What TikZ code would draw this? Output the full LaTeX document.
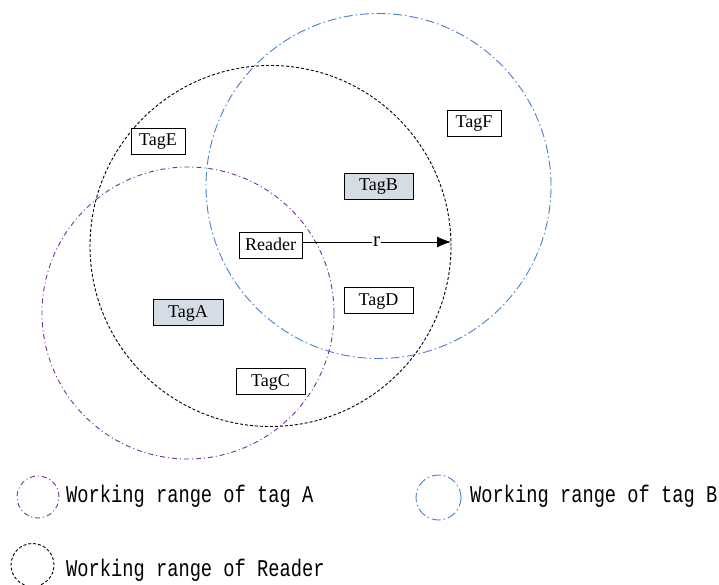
\documentclass[tikz,border=0pt]{standalone}
\usepackage{fontspec}
\setmainfont{Liberation Serif}
\newfontfamily\legendfont[FakeStretch=0.78]{Liberation Mono}
\usetikzlibrary{arrows.meta}

\definecolor{rangeA}{RGB}{112,48,160}
\definecolor{rangeB}{RGB}{74,126,211}
\definecolor{tagfill}{RGB}{214,220,229}

\tikzset{
  rangering/.style={circle, draw, inner sep=0pt, line width=0.9pt},
  readerline/.style={dash pattern=on 3pt off 2pt, draw=black},
  tagAline/.style={dash pattern=on 5pt off 3pt on 1pt off 3pt, draw=rangeA},
  tagBline/.style={dash pattern=on 9pt off 3pt on 1.5pt off 3pt, draw=rangeB},
  tagbox/.style={draw=black, fill=white, line width=0.8pt, minimum height=26pt,
                 inner sep=0pt, text height=12pt, text depth=2pt,
                 font=\fontsize{18}{20}\selectfont},
  selected/.style={tagbox, fill=tagfill},
  legendtext/.style={anchor=west, inner sep=0pt, font=\legendfont\fontsize{24}{26}\selectfont}
}

\begin{document}
\begin{tikzpicture}[x=1pt, y=-1pt]
\useasboundingbox (0,0) rectangle (719,585);

% working ranges
\node[rangering, readerline, minimum size=361pt] (readerrange) at (270.5,246) {};
\node[rangering, tagBline, minimum size=345pt] (rangeB) at (378.5,186) {};
\node[rangering, tagAline, minimum size=292pt] (rangeA) at (188,313) {};

% tags and reader
\node[tagbox, minimum width=54pt] (tagE) at (158,141) {TagE};
\node[tagbox, minimum width=54pt] (tagF) at (474,123) {TagF};
\node[selected, minimum width=69pt] (tagB) at (378.5,186) {TagB};
\node[tagbox, minimum width=63pt] (reader) at (270.5,245.5) {Reader};
\node[tagbox, minimum width=69pt] (tagD) at (378.5,300) {TagD};
\node[selected, minimum width=70pt] (tagA) at (188,312.5) {TagA};
\node[tagbox, minimum width=69pt] (tagC) at (270.5,381) {TagC};

% reading radius
\coordinate (edge) at (451,242);
\draw[line width=0.9pt, -{Latex[length=14pt,width=11pt]}] (reader.east |- edge) -- (edge)
  node[midway, fill=white, inner sep=1pt, font=\fontsize{21}{22}\selectfont] (rlabel) {r};

% legend
\node[rangering, tagAline, minimum size=42pt] (legA) at (38,497) {};
\node[legendtext] (legAtext) at (66,496) {Working range of tag A};
\node[rangering, tagBline, minimum size=45pt] (legB) at (438.5,497.5) {};
\node[legendtext] (legBtext) at (470,496) {Working range of tag B};
\node[rangering, readerline, minimum size=43pt] (legR) at (32.5,565) {};
\node[legendtext] (legRtext) at (66,570) {Working range of Reader};
\end{tikzpicture}
\end{document}
